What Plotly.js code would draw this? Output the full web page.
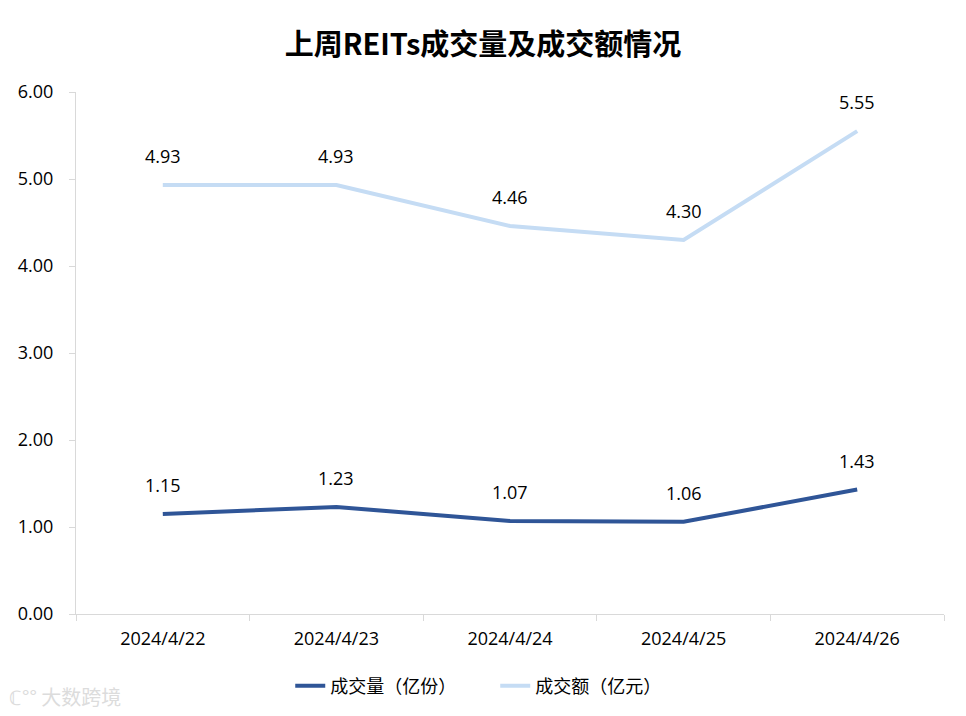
<!DOCTYPE html>
<html>
<head>
<meta charset="utf-8">
<script src="https://cdn.plot.ly/plotly-3.0.1.min.js"></script>
<style>html,body{margin:0;padding:0;background:#fff;}#chart{width:966px;height:716px;}</style>
</head>
<body>
<div id="chart"></div>
<script>
const categories = ["2024/4/22", "2024/4/23", "2024/4/24", "2024/4/25", "2024/4/26"];
const volume = [1.15, 1.23, 1.07, 1.06, 1.43];
const amount = [4.93, 4.93, 4.46, 4.30, 5.55];
const seriesNames = ["成交量（亿份）", "成交额（亿元）"];
const yTicks = [0, 1, 2, 3, 4, 5, 6];

const FONT = '"Open Sans", "Noto Sans CJK SC", sans-serif';
const CJK = '"Noto Sans CJK SC", "Open Sans", sans-serif';
const darkBlue = "#2F5597";
const lightBlue = "#C5DCF4";

const traces = [
  {x: categories, y: volume, name: seriesNames[0], type: "scatter", mode: "lines",
   line: {color: darkBlue, width: 4}},
  {x: categories, y: amount, name: seriesNames[1], type: "scatter", mode: "lines",
   line: {color: lightBlue, width: 4}}
];

const annotations = [];
[volume, amount].forEach(arr => {
  arr.forEach((v, i) => {
    annotations.push({x: categories[i], y: v, xref: "x", yref: "y", text: v.toFixed(2),
      showarrow: false, yshift: 29, font: {family: FONT, size: 18, color: "#000"}});
  });
});
annotations.push({xref: "paper", yref: "paper", x: -0.079, y: -0.159, xanchor: "left", yanchor: "middle",
  text: "ℂ°° 大数跨境", showarrow: false, font: {family: CJK, size: 20, color: "#dcdcdc"}});

const layout = {
  width: 966, height: 716,
  paper_bgcolor: "#fff", plot_bgcolor: "#fff",
  margin: {l: 76, r: 22, t: 92, b: 102},
  title: {text: "<b>上周REITs成交量及成交额情况</b>", x: 0.5, xanchor: "center", y: 0.938, yanchor: "middle",
    font: {family: CJK, size: 29, color: "#000"}},
  font: {family: FONT, color: "#000"},
  xaxis: {type: "category", showgrid: false, zeroline: false, showline: true, linecolor: "#d9d9d9", linewidth: 1,
    ticks: "outside", tickson: "boundaries", ticklen: 6, tickcolor: "#d9d9d9", ticklabelstandoff: 8,
    tickfont: {family: FONT, size: 18, color: "#000"}, range: [-0.5, 4.5]},
  yaxis: {range: [0, 6], tickvals: yTicks, ticktext: yTicks.map(v => v.toFixed(2)), showgrid: false, zeroline: false,
    showline: true, linecolor: "#d9d9d9", linewidth: 1, ticks: "outside", ticklen: 6, tickcolor: "#d9d9d9",
    ticklabelstandoff: 12, tickfont: {family: FONT, size: 18, color: "#000"}},
  legend: {orientation: "h", x: 0.483, xanchor: "center", y: -0.138, yanchor: "middle",
    font: {family: CJK, size: 18, color: "#000"}, entrywidth: 160, entrywidthmode: "pixels", itemwidth: 30},
  showlegend: true,
  annotations: annotations
};

Plotly.newPlot("chart", traces, layout, {displayModeBar: false, staticPlot: true});
</script>
</body>
</html>
